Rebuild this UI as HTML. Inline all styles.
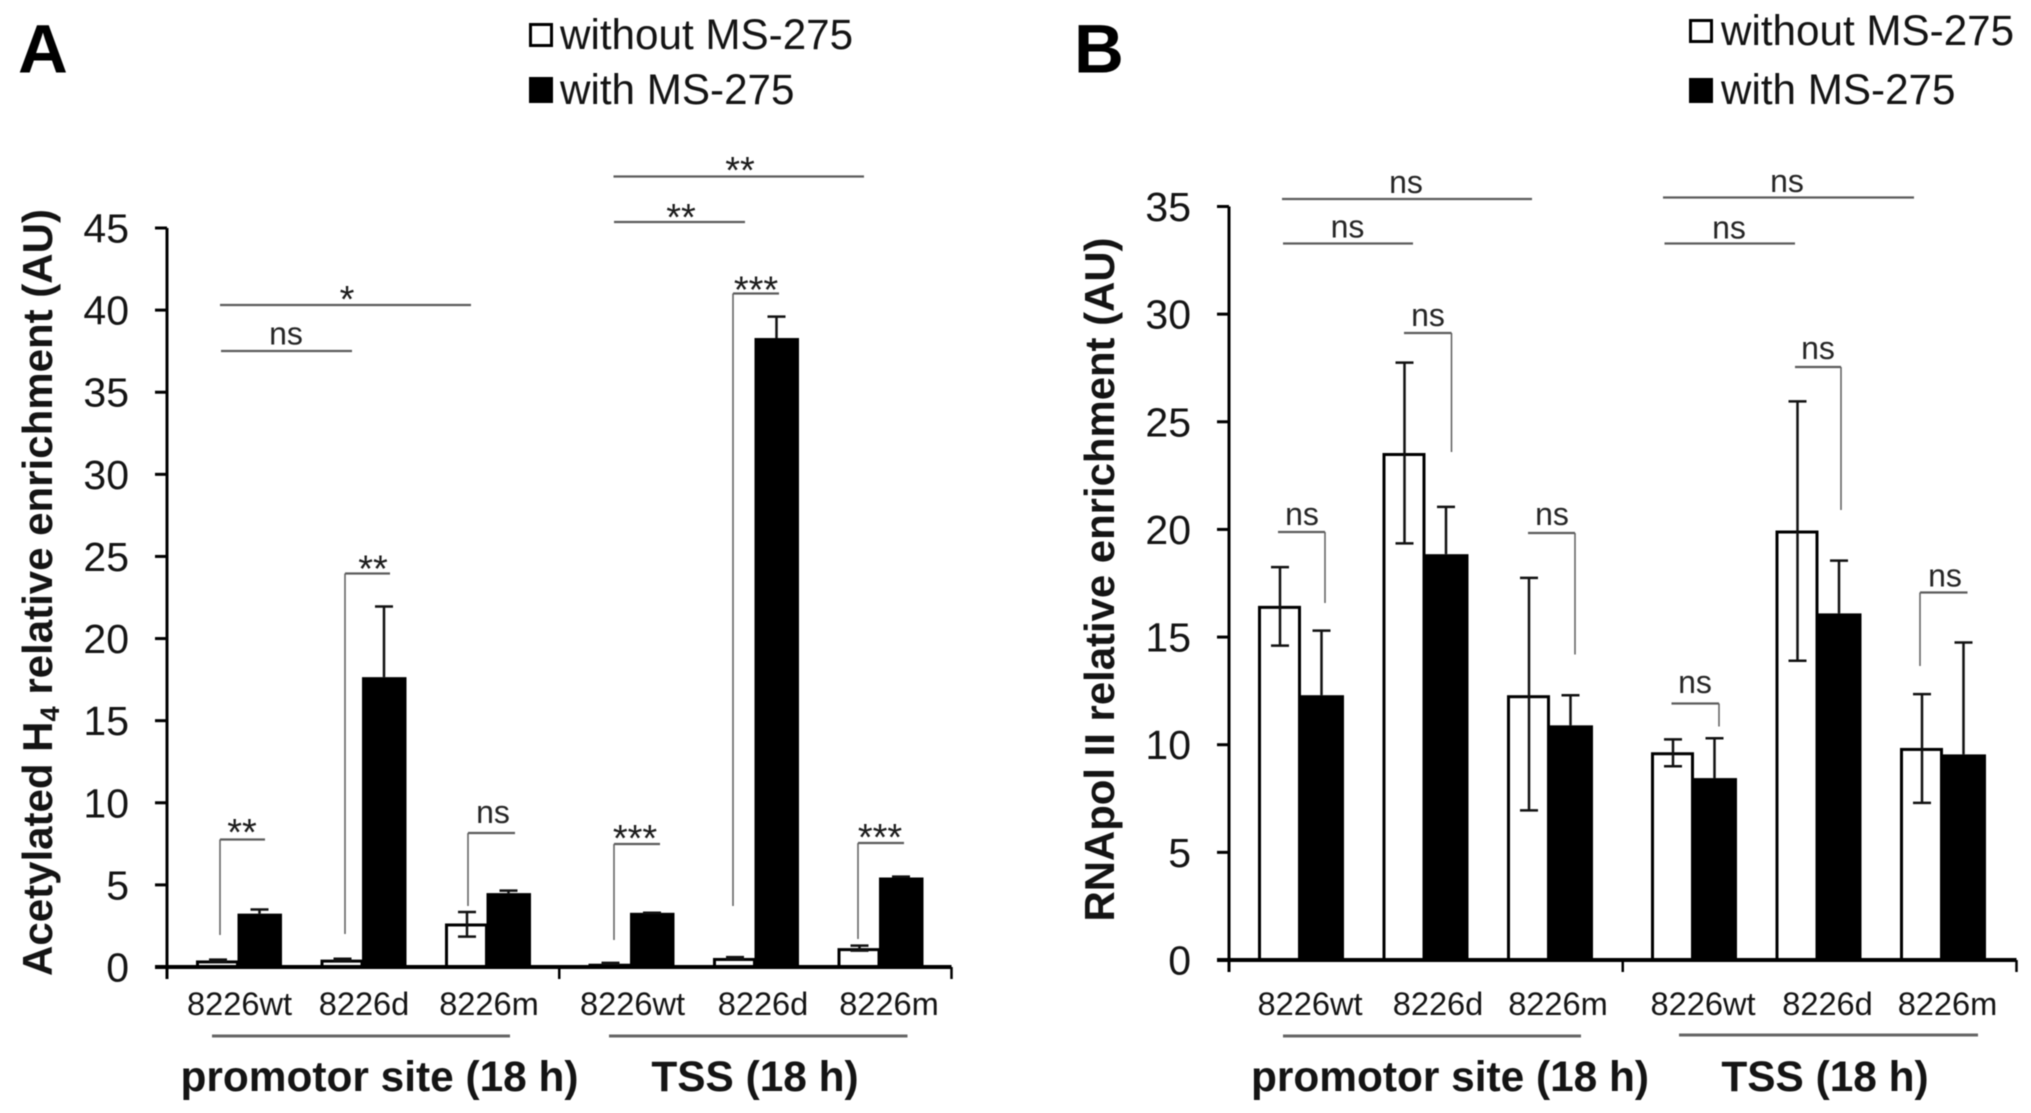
<!DOCTYPE html>
<html lang="en">
<head>
<meta charset="utf-8">
<title>Acetylated H4 and RNApol II relative enrichment</title>
<style>
html,body{margin:0;padding:0;background:#fff;}
#figure{display:block;width:2031px;height:1113px;filter:blur(0.6px);font-family:"Liberation Sans",Arial,sans-serif;fill:#141414;}
.tick-label{font-size:41px;text-anchor:end;}
.cat-label{font-size:32.6px;text-anchor:middle;}
.legend-text{font-size:42.2px;}
.group-label{font-size:42.4px;font-weight:bold;text-anchor:middle;}
.axis-title{font-size:41.8px;font-weight:bold;}
.panel-letter{font-size:69px;font-weight:bold;fill:#000;}
.ns{font-size:32px;text-anchor:middle;fill:#262626;}
.stars{font-size:38px;text-anchor:middle;fill:#1c1c1c;}
.hbar{stroke:#5c5c5c;stroke-width:2.2;}
.vbar{stroke:#5c5c5c;stroke-width:1.5;}
.underline{stroke:#666;stroke-width:3;}
</style>
</head>
<body>
<svg id="figure" xmlns="http://www.w3.org/2000/svg" width="2031" height="1113" viewBox="0 0 2031 1113">
  <rect width="2031" height="1113" fill="#fff"/>

  <!-- Panel A static furniture -->
  <g>
    <text class="panel-letter" x="18" y="72.5">A</text>
    <rect x="530.5" y="24.5" width="21" height="21" fill="#fff" stroke="#000" stroke-width="3"/>
    <text class="legend-text" x="560" y="49">without MS-275</text>
    <rect x="529" y="77" width="24" height="26" fill="#000"/>
    <text class="legend-text" x="560" y="104">with MS-275</text>
    <text class="axis-title" transform="translate(52,976) rotate(-90)" textLength="767" lengthAdjust="spacingAndGlyphs">Acetylated H<tspan font-size="27" dy="7">4</tspan><tspan dy="-7"> relative enrichment (AU)</tspan></text>
    <line class="underline" x1="212" y1="1036" x2="510" y2="1036"/>
    <line class="underline" x1="609" y1="1036" x2="907.5" y2="1036"/>
    <text class="group-label" x="379.5" y="1091">promotor site (18 h)</text>
    <text class="group-label" x="755" y="1091">TSS (18 h)</text>
  </g>

  <!-- Panel B static furniture -->
  <g>
    <text class="panel-letter" x="1074" y="72.5">B</text>
    <rect x="1690.5" y="20.5" width="21" height="21" fill="#fff" stroke="#000" stroke-width="3"/>
    <text class="legend-text" x="1721" y="45">without MS-275</text>
    <rect x="1689" y="78" width="24" height="25" fill="#000"/>
    <text class="legend-text" x="1721" y="104">with MS-275</text>
    <text class="axis-title" transform="translate(1114,921.5) rotate(-90)" textLength="684" lengthAdjust="spacingAndGlyphs">RNApol II relative enrichment (AU)</text>
    <line class="underline" x1="1283" y1="1036" x2="1581" y2="1036"/>
    <line class="underline" x1="1679" y1="1035" x2="1978" y2="1035"/>
    <text class="group-label" x="1450" y="1091">promotor site (18 h)</text>
    <text class="group-label" x="1825" y="1091">TSS (18 h)</text>
  </g>

  <g id="marks"></g>

  <!-- Panel A significance annotations -->
  <g>
    <g><line class="hbar" x1="613.5" y1="176.5" x2="864" y2="176.5"/><text class="stars" x="740" y="183">**</text></g>
    <g><line class="hbar" x1="614" y1="222" x2="745" y2="222"/><text class="stars" x="681" y="230">**</text></g>
    <g><line class="hbar" x1="220" y1="305" x2="471" y2="305"/><text class="stars" x="347" y="312">*</text></g>
    <g><line class="hbar" x1="221" y1="351" x2="352" y2="351"/><text class="ns" x="286" y="344.5">ns</text></g>
    <g><line class="hbar" x1="733" y1="293.5" x2="779" y2="293.5"/><line class="vbar" x1="733" y1="293.5" x2="733" y2="906"/><text class="stars" x="756" y="302.5">***</text></g>
    <g><line class="hbar" x1="345" y1="573.5" x2="390" y2="573.5"/><line class="vbar" x1="345" y1="573.5" x2="345" y2="934"/><text class="stars" x="373" y="581.5">**</text></g>
    <g><line class="hbar" x1="220" y1="839.5" x2="265" y2="839.5"/><line class="vbar" x1="220" y1="839.5" x2="220" y2="935"/><text class="stars" x="242" y="845">**</text></g>
    <g><line class="hbar" x1="468" y1="833" x2="515" y2="833"/><line class="vbar" x1="468" y1="833" x2="468" y2="906"/><text class="ns" x="493" y="823">ns</text></g>
    <g><line class="hbar" x1="614" y1="844" x2="660" y2="844"/><line class="vbar" x1="614" y1="844" x2="614" y2="940"/><text class="stars" x="635" y="851">***</text></g>
    <g><line class="hbar" x1="858" y1="843" x2="904" y2="843"/><line class="vbar" x1="858" y1="843" x2="858" y2="939"/><text class="stars" x="880" y="850">***</text></g>
  </g>

  <!-- Panel B significance annotations -->
  <g>
    <g><line class="hbar" x1="1282" y1="199" x2="1532" y2="199"/><text class="ns" x="1406" y="193">ns</text></g>
    <g><line class="hbar" x1="1283" y1="243.5" x2="1413" y2="243.5"/><text class="ns" x="1347.5" y="237.5">ns</text></g>
    <g><line class="hbar" x1="1663" y1="197.5" x2="1914" y2="197.5"/><text class="ns" x="1787" y="192">ns</text></g>
    <g><line class="hbar" x1="1664.5" y1="243.5" x2="1795" y2="243.5"/><text class="ns" x="1729" y="238.5">ns</text></g>
    <g><line class="hbar" x1="1404" y1="333" x2="1451.5" y2="333"/><line class="vbar" x1="1451.5" y1="333" x2="1451.5" y2="452"/><text class="ns" x="1428" y="326">ns</text></g>
    <g><line class="hbar" x1="1795" y1="367" x2="1841" y2="367"/><line class="vbar" x1="1841" y1="367" x2="1841" y2="510"/><text class="ns" x="1818" y="359">ns</text></g>
    <g><line class="hbar" x1="1278" y1="532" x2="1325" y2="532"/><line class="vbar" x1="1325" y1="532" x2="1325" y2="603"/><text class="ns" x="1302" y="525">ns</text></g>
    <g><line class="hbar" x1="1528" y1="533" x2="1575" y2="533"/><line class="vbar" x1="1575" y1="533" x2="1575" y2="654.5"/><text class="ns" x="1552" y="525">ns</text></g>
    <g><line class="hbar" x1="1671.5" y1="703.5" x2="1719" y2="703.5"/><line class="vbar" x1="1719" y1="703.5" x2="1719" y2="726.5"/><text class="ns" x="1695" y="693">ns</text></g>
    <g><line class="hbar" x1="1920" y1="592.5" x2="1967.5" y2="592.5"/><line class="vbar" x1="1920" y1="592.5" x2="1920" y2="666"/><text class="ns" x="1945" y="586.5">ns</text></g>
  </g>
</svg>

<script>
// ---- chart data ----
const categories = ['8226wt', '8226d', '8226m', '8226wt', '8226d', '8226m'];

const yTicksA = [0, 5, 10, 15, 20, 25, 30, 35, 40, 45];
const withoutA = [0.4, 0.45, 2.65, 0.2, 0.55, 1.15];
const withA = [3.25, 17.65, 4.5, 3.3, 38.3, 5.45];
const withoutHighA = [0.45, 0.5, 3.35, 0.25, 0.6, 1.3];
const withoutLowA = [0.35, 0.4, 1.85, 0.15, 0.5, 1.0];
const withHighA = [3.5, 21.95, 4.65, 3.3, 39.6, 5.5];

const yTicksB = [0, 5, 10, 15, 20, 25, 30, 35];
const withoutB = [16.45, 23.55, 12.3, 9.65, 19.95, 9.85];
const withB = [12.3, 18.85, 10.9, 8.45, 16.1, 9.55];
const withoutHighB = [18.25, 27.75, 17.75, 10.25, 25.95, 12.35];
const withoutLowB = [14.6, 19.35, 6.95, 9.0, 13.9, 7.3];
const withHighB = [15.3, 21.05, 12.3, 10.3, 18.55, 14.75];

// ---- drawing ----
const SVG_NS = 'http://www.w3.org/2000/svg';
const root = document.getElementById('marks');

function make(tag, attrs, parent) {
  const el = document.createElementNS(SVG_NS, tag);
  for (const k in attrs) el.setAttribute(k, attrs[k]);
  parent.appendChild(el);
  return el;
}

function drawPanel(p) {
  const panel = make('g', {}, root);
  
  

  const y = v => p.y0 - v * p.unit;
  const x = i => p.x0 + 70.5 + 124.5 * (i % 3) + (i >= 3 ? p.half : 0);

  // bars
  categories.forEach((cat, i) => {
    const c = x(i);
    const wTop = y(p.without[i]);
    const bar1 = make('rect', {
      x: c - 40, y: wTop + 1.5, width: 40,
      height: Math.max(0, p.y0 - wTop - 1.5),
      fill: '#fff', stroke: '#000', 'stroke-width': 3
    }, panel);
    
    

    const bar2 = make('rect', {
      x: c, y: y(p.with[i]), width: 44.5,
      height: Math.max(0, p.y0 - y(p.with[i])),
      fill: '#000'
    }, panel);
    
    
  });

  // error bars
  categories.forEach((cat, i) => {
    const c = x(i);
    const wx = c - 19.5;
    const bx = c + 22;
    const e1 = make('path', {
      d: 'M' + (wx - 9) + ' ' + y(p.withoutHigh[i]) + 'H' + (wx + 9) +
         'M' + wx + ' ' + y(p.withoutHigh[i]) + 'V' + y(p.withoutLow[i]) +
         'M' + (wx - 9) + ' ' + y(p.withoutLow[i]) + 'H' + (wx + 9),
      stroke: '#111', 'stroke-width': 2.5, fill: 'none'
    }, panel);
    
    

    const e2 = make('path', {
      d: 'M' + (bx - 9) + ' ' + y(p.withHigh[i]) + 'H' + (bx + 9) +
         'M' + bx + ' ' + y(p.withHigh[i]) + 'V' + y(p.with[i]),
      stroke: '#111', 'stroke-width': 2.5, fill: 'none'
    }, panel);
    
    
  });

  // y axis
  const axisTop = y(p.ticks[p.ticks.length - 1]);
  const yAxis = make('line', {
    x1: p.x0, y1: axisTop, x2: p.x0, y2: p.y0 + 12,
    stroke: '#000', 'stroke-width': 3
  }, panel);
  
  

  p.ticks.forEach(t => {
    const tick = make('line', {
      x1: p.x0 - 12, y1: y(t), x2: p.x0, y2: y(t),
      stroke: '#000', 'stroke-width': 3
    }, panel);
    
    

    const label = make('text', { class: 'tick-label', x: p.x0 - 38, y: y(t) + 14.5 }, panel);
    label.textContent = String(t);
    
    
  });

  // x axis
  const xAxis = make('line', {
    x1: p.x0 - 12, y1: p.y0, x2: p.x0 + p.len, y2: p.y0,
    stroke: '#000', 'stroke-width': 4
  }, panel);
  
  

  [0, 0.5, 1].forEach(f => {
    const tx = p.x0 + p.len * f;
    const tick = make('line', {
      x1: tx, y1: p.y0, x2: tx, y2: p.y0 + 12,
      stroke: '#000', 'stroke-width': 2.5
    }, panel);
    
    
  });

  categories.forEach((cat, i) => {
    const label = make('text', { class: 'cat-label', x: x(i) + p.labelNudge[i], y: 1015 }, panel);
    label.textContent = cat;
    
    
  });
}

drawPanel({
  id: 'panel-a', x0: 167, y0: 967, unit: 739 / 45, len: 784.5, half: 392.5,
  labelNudge: [2, 2, 2.5, 2.5, 8.5, 10],
  ticks: yTicksA, without: withoutA, with: withA,
  withoutHigh: withoutHighA, withoutLow: withoutLowA, withHigh: withHighA
});

drawPanel({
  id: 'panel-b', x0: 1229, y0: 960, unit: 753.5 / 35, len: 787.5, half: 393,
  labelNudge: [10.5, 14, 9.5, 10.5, 10.5, 6],
  ticks: yTicksB, without: withoutB, with: withB,
  withoutHigh: withoutHighB, withoutLow: withoutLowB, withHigh: withHighB
});
</script>
</body>
</html>
